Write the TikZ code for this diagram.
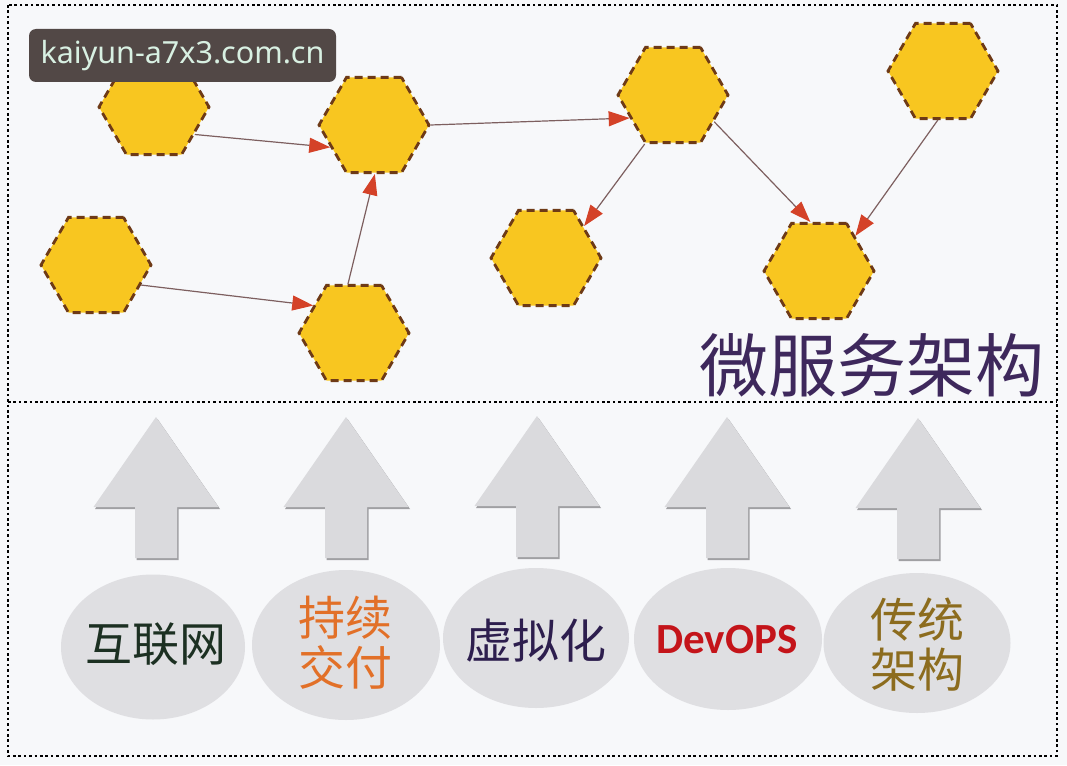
\documentclass[tikz,border=0pt]{standalone}
\usepackage{fontspec}
\newfontfamily\cjk{Noto Sans CJK SC}
\newfontfamily\wmfont{Noto Sans}
\newfontfamily\devfont{Carlito}
\usetikzlibrary{shapes.geometric,arrows.meta}
\definecolor{bg}{RGB}{247,248,250}
\definecolor{hexfill}{RGB}{248,198,32}
\definecolor{hexline}{RGB}{110,58,22}
\definecolor{conn}{RGB}{125,95,95}
\definecolor{tipred}{RGB}{212,66,40}
\definecolor{arrgray}{RGB}{218,218,221}
\definecolor{arrshadow}{RGB}{160,160,163}
\definecolor{ellgray}{RGB}{223,223,226}
\definecolor{cgreen}{RGB}{28,48,34}
\definecolor{corange}{RGB}{226,112,40}
\definecolor{cpurple}{RGB}{45,30,78}
\definecolor{cred}{RGB}{196,20,26}
\definecolor{cgold}{RGB}{140,108,30}
\definecolor{ctitle}{RGB}{62,40,92}
\definecolor{wmbox}{RGB}{82,72,70}
\definecolor{wmtext}{RGB}{216,240,226}
\tikzset{
  hexa/.style={regular polygon, regular polygon sides=6, minimum size=110pt, inner sep=0pt,
    fill=hexfill, draw=hexline, line width=2.8pt, dash pattern=on 8pt off 5pt},
  link/.style={draw=conn, line width=1.2pt, -{Triangle[length=21pt,width=15pt,color=tipred]}},
  frame/.style={draw=black, line width=2.8pt, dash pattern=on 2.6pt off 2.8pt},
  ell/.style={ellipse, fill=ellgray, inner sep=0pt},
  lbl/.style={align=center, inner sep=0pt, font=\cjk\fontsize{47}{50}\selectfont},
  uparrow/.pic={
    \fill[arrshadow, shift={(1.5,2)}] (0,0) -- (62.5,90) -- (21,90) -- (21,141) -- (-21,141) -- (-21,90) -- (-62.5,90) -- cycle;
    \fill[arrgray] (0,0) -- (62.5,90) -- (21,90) -- (21,141) -- (-21,141) -- (-21,90) -- (-62.5,90) -- cycle;
  }
}
\begin{document}
\begin{tikzpicture}[x=1pt,y=-1pt]
\useasboundingbox (0,0) rectangle (1067,765);
\fill[bg] (0,0) rectangle (1067,765);
\draw[frame] (8,5) rectangle (1057,756);
\draw[frame] (8,402) -- (1057,402);

% hexagons
\node[hexa] (h1) at (154,107) {};
\node[hexa] (h2) at (374,125) {};
\node[hexa] (h3) at (673,95) {};
\node[hexa] (h4) at (943,71) {};
\node[hexa] (h5) at (96,265) {};
\node[hexa] (h6) at (354,333) {};
\node[hexa] (h7) at (546,258) {};
\node[hexa] (h8) at (819,271) {};

% connectors
\draw[link] (h1.-34) -- (h2.-153);
\draw[link] (h2.east) -- (h3.-152);
\draw[link] (h6.97) -- (h2.-89);
\draw[link] (h5.-24) -- (h6.146);
\draw[link] (h3.-120) -- (h7.40);
\draw[link] (h3.-33) -- (h8.100);
\draw[link] (h4.-96) -- (h8.44);

% title
\node[inner sep=0pt, text=ctitle, font=\cjk\fontsize{69}{72}\selectfont] (title) at (872,365) {微服务架构};

% up arrows
\pic at (156,417) {uparrow};
\pic at (346,417) {uparrow};
\pic at (537,416) {uparrow};
\pic at (727,417) {uparrow};
\pic at (918,418) {uparrow};

% ellipses
\node[ell, minimum width=184pt, minimum height=145pt] (e1) at (153,647) {};
\node[ell, minimum width=188pt, minimum height=150pt] (e2) at (346,645) {};
\node[ell, minimum width=186pt, minimum height=140pt] (e3) at (536,638) {};
\node[ell, minimum width=188pt, minimum height=142pt] (e4) at (728,639) {};
\node[ell, minimum width=187pt, minimum height=140pt] (e5) at (917,643) {};

\node[lbl, text=cgreen] (t1) at (156,644) {互联网};
\node[lbl, text=corange] (t2) at (345,643) {持续\\交付};
\node[lbl, text=cpurple] (t3) at (536,641) {虚拟化};
\node[inner sep=0pt, text=cred, font=\devfont\bfseries\fontsize{43}{46}\selectfont] (t4) at (727,640) {DevOPS};
\node[lbl, text=cgold] (t5) at (917,645) {传统\\架构};

% watermark
\node[fill=wmbox, rounded corners=7pt, minimum width=307pt, minimum height=53pt, inner sep=0pt,
  text=wmtext, font=\wmfont\fontsize{30.5}{33}\selectfont] (wm) at (182.5,55.5) {kaiyun-a7x3.com.cn};
\end{tikzpicture}
\end{document}
